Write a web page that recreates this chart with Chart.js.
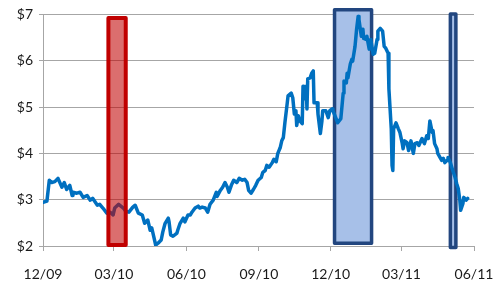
<!DOCTYPE html>
<html><head><meta charset="utf-8">
<script src="https://cdn.jsdelivr.net/npm/chart.js@4/dist/chart.umd.min.js"></script>
<style>html,body{margin:0;padding:0;background:#fff}#wrap{width:497px;height:282px}</style>
</head><body><div id="wrap"><canvas id="c" width="497" height="282"></canvas></div>
<script>
// days since 2009-12-01
const days = [
0,5,8,11,15,19,24,27,30,34,
37,38,43,47,51,56,60,63,69,72,
76,81,85,89,91,96,102,105,109,114,
117,121,126,129,133,136,138,141,143,146,
150,152,155,159,160,162,165,170,171,174,
178,180,184,187,189,193,197,199,202,206,
209,212,216,220,221,225,228,231,234,236,
239,242,246,249,253,256,259,261,264,267,
270,273,277,279,282,284,287,291,293,296,
298,301,303,305,307,310,311,315,317,319,
321,322,324,326,329,330,331,334,335,336,
339,341,343,344,345,348,349,352,354,355,
359,362,364,367,368,372,374,378,381,382,
385,386,387,390,392,393,396,398,400,401,
404,406,407,410,411,414,416,419,421,424,
425,428,431,433,435,438,439,442,443,444,
445,448,451,453,456,457,459,462,464,467,
470,472,475,477,481,484,487,489,491,494,
495,497,500,501,504,506,508,510,513,514,
517,520,523,525,527,529,530,533,534,537,
539];
const prices = [
2.94,2.97,3.42,3.37,3.39,3.46,3.27,3.37,3.22,3.31,
3.09,3.16,3.14,3.16,3.05,3.09,2.99,3.03,2.88,2.90,
2.82,2.71,2.73,2.67,2.82,2.90,2.82,2.75,2.73,2.84,
2.88,2.71,2.67,2.49,2.56,2.34,2.39,2.17,2.02,2.06,
2.13,2.30,2.49,2.60,2.52,2.24,2.21,2.28,2.34,2.49,
2.60,2.52,2.67,2.67,2.73,2.82,2.86,2.82,2.84,2.82,
2.73,2.90,2.99,3.16,3.07,3.20,3.27,3.37,3.27,3.16,
3.31,3.42,3.37,3.46,3.42,3.44,3.37,3.20,3.14,3.22,
3.31,3.42,3.48,3.59,3.63,3.74,3.70,3.80,3.87,3.82,
4.00,4.12,4.27,4.34,4.66,5.09,5.24,5.30,5.20,4.85,
4.92,4.60,4.81,4.70,4.64,5.45,5.18,5.45,4.96,5.61,
5.63,5.73,5.78,5.09,5.09,5.09,4.85,4.43,4.70,4.92,
4.92,4.77,4.92,4.96,4.92,4.75,4.66,4.75,5.30,5.56,
5.52,5.73,5.63,5.93,6.03,5.99,6.31,6.68,6.96,6.89,
6.53,6.68,6.48,6.46,6.53,6.25,6.46,6.14,6.16,6.46,
6.64,6.70,6.64,6.31,6.27,6.16,5.39,4.53,3.74,3.63,
4.53,4.66,4.53,4.45,4.21,4.10,4.27,4.23,4.06,4.27,
4.00,4.21,4.23,4.17,4.32,4.21,4.38,4.32,4.70,4.45,
4.49,4.21,4.10,4.00,3.91,3.85,3.89,3.80,3.85,3.91,
3.80,3.63,3.48,3.35,3.24,2.99,2.77,2.92,3.05,2.99,
3.03];
const tickDays = [0, 90, 182, 274, 365, 455, 547];
const tickLabels = ['12/09', '03/10', '06/10', '09/10', '12/10', '03/11', '06/11'];
// highlight boxes: start day, end day, low, high
const boxStart = [83, 370, 517];
const boxEnd = [105, 417, 524];
const boxLow = [2.02, 2.06, 1.97];
const boxHigh = [6.92, 7.10, 7.01];
const boxFill = ['rgba(192,0,0,0.57)', '#a7c0e8', '#a7c0e8'];
const boxStroke = ['#c00000', '#22467f', '#22467f'];
const boxOnTop = [true, false, false];

function drawBoxes(chart, top) {
  const {ctx, scales:{x, y}} = chart;
  ctx.save();
  for (let i = 0; i < boxStart.length; i++) {
    if (boxOnTop[i] !== top) continue;
    const x0 = x.getPixelForValue(boxStart[i]), x1 = x.getPixelForValue(boxEnd[i]);
    const y0 = y.getPixelForValue(boxHigh[i]), y1 = y.getPixelForValue(boxLow[i]);
    ctx.fillStyle = boxFill[i];
    ctx.fillRect(x0, y0, x1 - x0, y1 - y0);
    ctx.strokeStyle = boxStroke[i];
    ctx.lineWidth = i === 0 ? 4 : 3.5;
    ctx.lineJoin = 'round';
    ctx.strokeRect(x0, y0, x1 - x0, y1 - y0);
  }
  ctx.restore();
}
const boxPlugin = {
  id: 'boxes',
  beforeDatasetsDraw(chart) { drawBoxes(chart, false); },
  afterDatasetsDraw(chart) { drawBoxes(chart, true); }
};

new Chart(document.getElementById('c'), {
  type: 'line',
  data: {
    datasets: [{
      data: days.map((d, i) => ({x: d, y: prices[i]})),
      borderColor: '#0070c0',
      borderWidth: 3.5,
      pointRadius: 0,
      tension: 0,
      borderJoinStyle: 'round',
      borderCapStyle: 'round'
    }]
  },
  options: {
    responsive: false,
    animation: false,
    devicePixelRatio: 1,
    layout: {padding: {top: 13, right: 23, left: 0, bottom: 0}},
    plugins: {legend: {display: false}, tooltip: {enabled: false}},
    scales: {
      x: {
        type: 'linear', min: 0, max: 547,
        afterBuildTicks: s => { s.ticks = tickDays.map(v => ({value: v})); },
        afterFit: s => { s.height = 36; s.paddingLeft = 0; s.paddingRight = 0; },
        ticks: {
          autoSkip: false, maxRotation: 0,
          callback: (v, i) => tickLabels[i],
          color: '#1a1a1a', font: {family: 'Lato', size: 14}, padding: 15
        },
        grid: {display: true, drawOnChartArea: false, drawTicks: true, tickLength: 5, color: '#a6a6a6'},
        border: {display: true, color: '#a6a6a6'}
      },
      y: {
        min: 2, max: 7,
        afterFit: s => { s.width = 43; },
        ticks: {
          stepSize: 1,
          callback: v => '$' + v,
          color: '#1a1a1a', font: {family: 'Lato', size: 14}, padding: 6
        },
        grid: {color: '#a6a6a6', tickLength: 4},
        border: {display: true, color: '#a6a6a6'}
      }
    }
  },
  plugins: [boxPlugin]
});
</script>
</body></html>
